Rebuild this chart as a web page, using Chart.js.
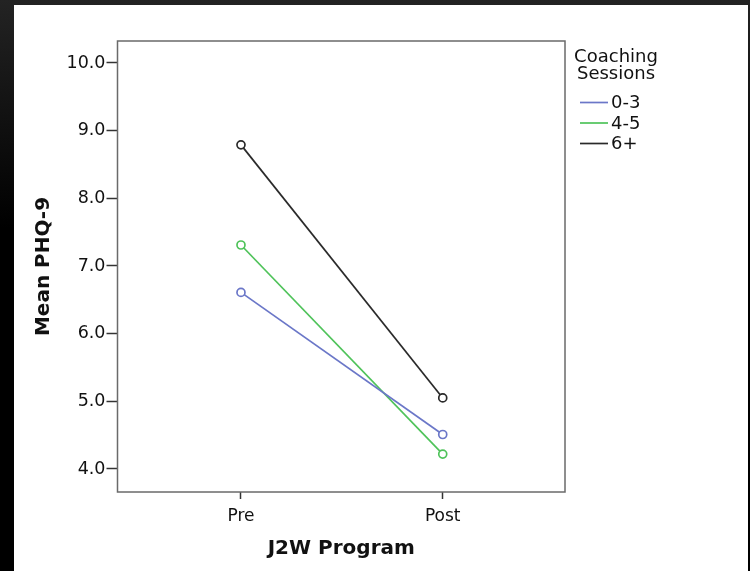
<!DOCTYPE html>
<html>
<head>
<meta charset="utf-8">
<script src="https://cdn.jsdelivr.net/npm/chart.js@4"></script>
<style>
  html, body { margin:0; padding:0; }
  body {
    width:750px; height:571px; overflow:hidden;
    background:linear-gradient(#232323, #000 40%);
  }
  #frame {
    position:absolute; left:14px; top:5px;
    width:734px; height:566px; background:#fff;
  }
</style>
</head>
<body>
<div id="frame"><canvas id="phqChart" width="734" height="566"></canvas></div>
<script>

// ======================================
// Data
// ======================================

const categories = ["Pre", "Post"];

const sessionGroups = ["0-3", "4-5", "6+"];

const sessions0to3 = [6.61, 4.51];
const sessions4to5 = [7.31, 4.22];
const sessions6plus = [8.79, 5.05];

const yTickValues = [4, 5, 6, 7, 8, 9, 10];

const groupColors = ["#6b77c8", "#4fc35a", "#2a2a2a"];

// ======================================
// Helpers
// ======================================

const FONT = "'DejaVu Sans', Verdana, sans-serif";

function toPoints(values){

    return values.map((v, i) => ({ x: i, y: v }));

}

function makeSet(label, values, color){

    return {
        label: label,
        data: toPoints(values),
        borderColor: color,
        backgroundColor: "#ffffff",
        borderWidth: 1.7,
        pointRadius: 4,
        pointBorderWidth: 1.7,
        pointBackgroundColor: "#ffffff",
        pointBorderColor: color,
        tension: 0
    };

}

// ======================================
// Plugins: frame box + SPSS style legend
// ======================================

const boxPlugin = {
    id: "box",
    afterDatasetsDraw(chart){
        const a = chart.chartArea;
        const ctx = chart.ctx;
        ctx.save();
        ctx.strokeStyle = "#6a6a6a";
        ctx.lineWidth = 1.5;
        ctx.strokeRect(a.left, a.top, a.right - a.left, a.bottom - a.top);
        ctx.restore();
    }
};

const legendPlugin = {
    id: "spssLegend",
    afterDraw(chart){
        const ctx = chart.ctx;
        ctx.save();
        ctx.fillStyle = "#111";
        ctx.font = "18px " + FONT;
        ctx.textBaseline = "middle";
        ctx.textAlign = "center";
        ctx.fillText("Coaching", 602, 52);
        ctx.fillText("Sessions", 602, 69);
        ctx.textAlign = "left";
        chart.data.datasets.forEach((ds, i) => {
            const y = 97.5 + i * 20.5;
            ctx.strokeStyle = ds.borderColor;
            ctx.lineWidth = 1.7;
            ctx.beginPath();
            ctx.moveTo(566, y);
            ctx.lineTo(594, y);
            ctx.stroke();
            ctx.fillStyle = "#111";
            ctx.fillText(ds.label, 597, y + 1);
        });
        ctx.restore();
    }
};

// ======================================
// Chart
// ======================================

const ctx = document.getElementById("phqChart");

new Chart(ctx, {

    type: "line",

    data: {
        datasets: [
            makeSet(sessionGroups[0], sessions0to3, groupColors[0]),
            makeSet(sessionGroups[1], sessions4to5, groupColors[1]),
            makeSet(sessionGroups[2], sessions6plus, groupColors[2])
        ]
    },

    options: {

        responsive: false,
        animation: false,

        layout: {
            padding: { top: 36, right: 183, bottom: 0, left: 0 }
        },

        plugins: {
            legend: { display: false },
            tooltip: { enabled: false }
        },

        scales: {

            x: {
                type: "linear",
                min: -0.612,
                max: 1.606,
                afterBuildTicks(scale){
                    scale.ticks = categories.map((c, i) => ({ value: i }));
                },
                afterFit(scale){
                    scale.height = 79;
                },
                grid: {
                    drawOnChartArea: false,
                    drawTicks: true,
                    tickLength: 7,
                    tickWidth: 1.5,
                    tickColor: "#333"
                },
                border: { display: false },
                ticks: {
                    padding: 7,
                    color: "#111",
                    font: { family: FONT, size: 17 },
                    callback: (v) => categories[v]
                },
                title: {
                    display: true,
                    text: "J2W Program",
                    color: "#111",
                    font: { family: FONT, size: 20, weight: "bold" },
                    padding: { top: 0, bottom: 10 }
                }
            },

            y: {
                min: 3.66,
                max: 10.325,
                afterBuildTicks(scale){
                    scale.ticks = yTickValues.map(v => ({ value: v }));
                },
                afterFit(scale){
                    scale.width = 103.5;
                },
                grid: {
                    drawOnChartArea: false,
                    drawTicks: true,
                    tickLength: 11,
                    tickWidth: 1.5,
                    tickColor: "#333"
                },
                border: { display: false },
                ticks: {
                    padding: 1,
                    color: "#111",
                    font: { family: FONT, size: 17.5 },
                    callback: (v) => Number(v).toFixed(1)
                },
                title: {
                    display: true,
                    text: "Mean PHQ-9",
                    color: "#111",
                    font: { family: FONT, size: 20, weight: "bold" },
                    padding: { top: 18, bottom: 0 }
                }
            }

        }

    },

    plugins: [boxPlugin, legendPlugin]

});

</script>
</body>
</html>
